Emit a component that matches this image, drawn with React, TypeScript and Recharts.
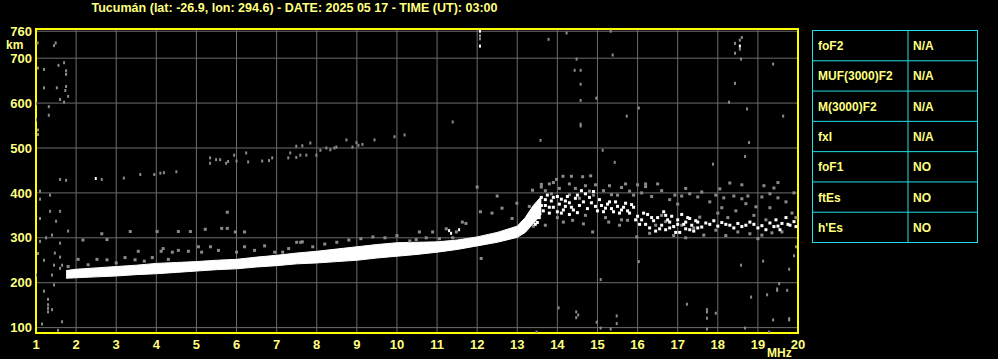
import { ComposedChart, Area, Scatter, XAxis, YAxis, CartesianGrid, ReferenceArea } from 'recharts'

const title = 'Tucumán (lat: -26.9, lon: 294.6) - DATE: 2025 05 17 - TIME (UT): 03:00'

const freqTicks = [1, 2, 3, 4, 5, 6, 7, 8, 9, 10, 11, 12, 13, 14, 15, 16, 17, 18, 19, 20]
const heightTicks = [100, 200, 300, 400, 500, 600, 700, 760]

// main (low) F trace, read as a band: lower / upper virtual height
const bandMHz = [1.75, 2, 2.5, 3, 3.5, 4, 4.5, 5, 5.5, 6, 6.5, 7, 7.5, 8, 8.5, 9, 9.5, 10, 10.5, 11, 11.5, 12, 12.5, 13, 13.2, 13.4, 13.6]
const bandLow = [210, 211, 213, 215, 218, 220, 223, 226, 229, 231, 235, 238, 242, 244, 247, 250, 255, 259, 263, 268, 274, 282, 290, 301, 312, 332, 352]
const bandHigh = [227, 230, 233, 236, 239, 243, 245, 247, 250, 252, 257, 261, 266, 270, 275, 280, 285, 289, 290, 291, 295, 302, 312, 326, 345, 372, 392]

// scattered echoes above 13.4 MHz (white)
const fLayerWhite = [
  [13.4, 340], [13.45, 330], [13.45, 352], [13.5, 366], [13.5, 334], [13.55, 345], [13.55, 378], [13.6, 390],
  [13.65, 360], [13.7, 372], [13.75, 395], [13.8, 355], [13.85, 382], [13.9, 368], [14.0, 392], [14.05, 375],
  [14.1, 386], [14.1, 355], [14.15, 362], [14.2, 370], [14.25, 392], [14.3, 378], [14.3, 352], [14.4, 362],
  [14.45, 388], [14.55, 372], [14.6, 405], [14.7, 398], [14.75, 365], [14.85, 378], [14.9, 403], [15.0, 360],
  [15.1, 372], [15.2, 366], [15.3, 380], [15.4, 358], [15.5, 370], [15.6, 362], [15.7, 377], [15.8, 355],
  [15.9, 368], [16.0, 348], [16.1, 340], [16.2, 330], [16.25, 352], [16.3, 322], [16.4, 338], [16.45, 315],
  [16.5, 345], [16.6, 328], [16.65, 358], [16.7, 318], [16.75, 340], [16.8, 335], [16.85, 348], [16.9, 325],
  [16.95, 312], [17.0, 340], [17.05, 312], [17.1, 352], [17.15, 330], [17.2, 320], [17.25, 345], [17.3, 343],
  [17.35, 328], [17.4, 315], [17.45, 338], [17.5, 335], [17.6, 324], [17.8, 330], [17.9, 338], [18.0, 326],
  [18.1, 334], [18.3, 328], [18.4, 322], [18.5, 332], [18.6, 325], [18.9, 330], [19.0, 322], [19.1, 327],
  [19.2, 318], [19.3, 333], [19.45, 340], [19.5, 326], [19.6, 332], [19.7, 345], [19.8, 328], [19.9, 336],
  [13.6, 372], [13.7, 385], [13.8, 368], [13.9, 390], [14.0, 358], [14.2, 382], [14.35, 368], [14.5, 395],
  [14.5, 356], [14.65, 380], [14.8, 390], [14.95, 370], [15.05, 385], [15.15, 358], [15.25, 375], [15.35, 365],
  [15.45, 380], [15.55, 355], [15.65, 368], [15.75, 360], [15.85, 374], [15.95, 340], [16.05, 330], [16.15, 355],
  [16.35, 345], [16.55, 320], [16.7, 350], [16.8, 322], [17.0, 330], [17.2, 335], [17.3, 318], [17.5, 322],
  [17.7, 333], [18.2, 330], [18.7, 328], [18.8, 335], [19.4, 325], [19.55, 318], [19.75, 330], [19.95, 325],
]

// weaker echoes round the F region (grey)
const fLayerGrey = [
  [13.4, 326], [13.6, 419], [13.7, 328], [13.85, 398], [13.9, 423], [13.98, 430], [14.14, 437], [14.15, 335],
  [14.3, 396], [14.3, 420], [14.35, 437], [14.38, 339], [14.55, 388], [14.63, 436], [14.65, 331], [14.7, 416],
  [14.8, 404], [14.83, 438], [14.88, 313], [14.95, 418], [15.28, 335], [15.3, 416], [15.35, 396], [15.55, 328],
  [15.7, 420], [15.75, 339], [15.8, 404], [15.98, 302], [16.0, 418], [16.2, 420], [16.2, 414], [16.45, 328],
  [16.5, 420], [16.6, 350], [16.7, 336], [16.93, 395], [17.1, 393], [17.1, 328], [17.3, 398], [17.4, 322],
  [17.5, 391], [17.55, 346], [17.65, 306], [17.95, 395], [17.95, 317], [18.05, 409], [18.1, 367], [18.15, 389],
  [18.3, 422], [18.4, 393], [18.5, 313], [18.6, 387], [18.6, 418], [18.7, 376], [18.75, 393], [18.8, 309],
  [18.95, 369], [19.1, 391], [19.1, 306], [19.15, 416], [19.3, 398], [19.3, 367], [19.35, 311], [19.4, 411],
  [19.5, 389], [19.5, 423], [19.6, 313], [19.85, 355], [19.9, 400],
  [13.7, 405], [14.05, 410], [14.45, 410], [14.9, 395], [15.15, 405], [15.5, 395], [15.6, 412], [15.9, 395],
  [16.1, 400], [16.35, 392], [16.6, 405], [16.8, 385], [17.0, 375], [17.2, 410], [17.6, 402], [17.8, 380],
  [18.0, 355], [18.25, 345], [18.45, 360], [18.9, 350], [19.2, 340], [19.7, 380], [19.95, 345], [16.3, 310],
  [16.9, 305], [17.2, 300], [18.2, 305], [19.0, 298], [15.2, 345], [15.6, 340], [14.0, 345], [14.7, 350],
]

// grey speckle along the top of the main trace
const fringeGrey = [
  [1.8, 236], [2.05, 252], [2.17, 295], [2.3, 240], [2.52, 252], [2.64, 309], [2.77, 251], [2.77, 296],
  [3.0, 244], [3.22, 256], [3.35, 314], [3.47, 251], [3.55, 270], [3.7, 248], [3.9, 256], [4.02, 314],
  [4.12, 270], [4.17, 276], [4.3, 252], [4.4, 268], [4.55, 272], [4.55, 314], [4.8, 270], [4.85, 314],
  [5.05, 280], [5.13, 268], [5.22, 319], [5.35, 280], [5.55, 272], [5.63, 321], [5.77, 321], [5.77, 357],
  [5.97, 313], [6.0, 268], [6.2, 280], [6.2, 313], [6.45, 272], [6.7, 282], [6.95, 268], [7.15, 268],
  [7.3, 276], [7.5, 290], [7.6, 290], [7.64, 291], [7.9, 280], [8.2, 286], [8.5, 290], [8.8, 295],
  [9.1, 298], [9.4, 302], [9.7, 300], [10.0, 305], [10.32, 293], [10.48, 296], [10.56, 313], [10.73, 300],
  [10.89, 313], [11.06, 298], [11.23, 320], [11.39, 300], [11.48, 313], [11.63, 335], [11.72, 332], [12.0, 413],
  [12.08, 358], [12.1, 254], [12.37, 355], [12.5, 393], [12.62, 366], [12.87, 343], [12.99, 377], [13.3, 370],
  [13.38, 406], [13.6, 413], [13.8, 420],
]

// isolated noise and the second-hop trace
const noiseGrey = [
  [1.04, 734], [1.49, 734], [1.45, 728], [1.7, 690], [1.56, 684], [1.05, 678], [1.2, 675], [1.75, 672],
  [1.75, 664], [1.75, 637], [1.2, 634], [1.52, 634], [1.73, 628], [1.8, 615], [1.6, 608], [1.7, 602],
  [1.32, 592], [1.32, 573], [1.0, 599], [1.0, 563], [1.05, 540], [1.05, 530], [1.1, 404], [1.35, 395],
  [1.1, 386], [1.35, 359], [1.6, 359], [1.5, 337], [1.1, 343], [1.8, 315], [1.4, 306], [1.1, 292],
  [1.25, 300], [1.6, 288], [1.05, 265], [1.47, 266], [1.2, 250], [1.6, 257], [1.45, 239], [1.65, 239],
  [1.4, 217], [1.0, 217], [1.45, 195], [1.2, 181], [1.3, 163], [1.3, 151], [1.3, 143], [1.4, 140],
  [1.3, 135], [1.15, 108], [1.65, 113], [1.55, 94], [1.6, 232], [1.6, 430], [1.75, 428],
  [2.64, 430], [3.19, 433], [3.6, 441], [3.95, 441], [4.1, 444], [4.19, 445], [4.5, 447], [5.34, 478],
  [5.49, 474], [5.59, 474], [5.34, 466], [5.74, 466], [5.79, 470], [5.94, 484], [6.0, 471], [6.24, 489],
  [6.29, 469], [6.64, 471], [6.81, 472], [6.89, 478], [7.29, 478], [7.34, 489], [7.49, 479], [7.49, 504],
  [7.64, 505], [7.59, 484], [7.74, 484], [7.84, 511], [7.99, 484], [8.09, 495], [8.24, 500], [8.34, 496],
  [8.44, 500], [8.49, 502], [8.74, 518], [8.89, 502], [8.99, 512], [9.04, 506], [9.14, 508], [9.44, 518],
  [9.94, 525], [10.19, 529], [11.39, 558],
  [12.07, 750], [12.07, 743], [13.78, 742], [14.23, 756], [15.33, 760], [15.38, 707], [14.48, 698], [14.43, 673],
  [14.58, 673], [14.58, 642], [14.58, 606], [14.97, 611], [16.03, 589], [15.73, 571], [14.58, 553], [14.58, 549],
  [13.58, 517], [15.13, 495], [15.43, 468], [17.88, 464], [18.68, 481], [18.78, 512], [19.63, 571], [18.73, 587],
  [18.28, 602], [18.43, 644], [19.38, 687], [18.58, 698], [18.43, 711], [18.43, 733], [18.55, 740], [18.6, 746],
  [18.55, 720],
  [15.08, 207], [14.03, 144], [14.47, 135], [14.47, 122], [14.52, 128], [15.48, 126], [14.98, 112], [15.48, 109],
  [15.08, 99], [15.33, 97], [13.48, 90], [17.23, 152], [17.73, 140], [17.73, 135], [17.73, 121], [17.95, 132],
  [17.73, 97], [18.58, 239], [19.13, 248], [19.78, 230], [18.83, 168], [19.23, 173], [19.53, 198], [19.48, 186],
  [19.48, 183], [19.73, 183], [19.38, 117], [19.78, 117], [19.78, 120], [18.68, 99], [19.28, 90], [16.03, 247],
  [19.9, 260], [19.95, 280],
]

const noiseWhite = [
  [2.49, 432], [12.07, 760], [12.07, 727], [18.55, 727], [11.3, 316], [11.55, 318], [11.35, 310],
]

const paramNames = ['foF2', 'MUF(3000)F2', 'M(3000)F2', 'fxI', 'foF1', 'ftEs', "h'Es"]
const paramValues = ['N/A', 'N/A', 'N/A', 'N/A', 'NO', 'NO', 'NO']

const band = bandMHz.map((f, i) => ({ f, range: [bandLow[i], bandHigh[i]] }))
const pts = (list: number[][]) => list.map(([f, h]) => ({ f, h }))

const YELLOW = '#ffff80'
const FONT = '"Liberation Sans", Arial, sans-serif'

const dot = (w: number, h: number, fill: string) => (p: any) =>
  <rect x={p.cx - w / 2} y={p.cy - h / 2} width={w} height={h} fill={fill} />

const tickStyle = { fill: YELLOW, fontSize: 13, fontWeight: 'bold', fontFamily: FONT }

export default function App() {
  const rowH = 212 / paramNames.length
  return (
    <div style={{ position: 'absolute', left: 0, top: 0, width: 998, height: 359, background: '#000', overflow: 'hidden' }}>
      <ComposedChart width={998} height={359} data={band} margin={{ top: 29, right: 200, bottom: 0, left: 0 }}>
        <CartesianGrid stroke="#6c6c6c" strokeWidth={1} />
        <XAxis
          type="number"
          dataKey="f"
          domain={[1, 20]}
          ticks={freqTicks}
          interval={0}
          allowDataOverflow
          axisLine={false}
          tickLine={false}
          tickSize={6}
          tickMargin={1}
          height={26}
          tick={tickStyle}
        />
        <YAxis
          type="number"
          dataKey="h"
          domain={[88, 765]}
          ticks={heightTicks}
          interval={0}
          allowDataOverflow
          axisLine={false}
          tickLine={false}
          tickSize={2}
          tickMargin={2}
          width={36}
          tick={tickStyle}
        />
        <Area
          type="linear"
          dataKey="range"
          stroke="#ffffff"
          strokeWidth={1}
          fill="#ffffff"
          fillOpacity={1}
          dot={false}
          activeDot={false}
          isAnimationActive={false}
        />
        <Scatter data={pts(fringeGrey)} shape={dot(3, 3, '#8a8a8a')} isAnimationActive={false} />
        <Scatter data={pts(fLayerGrey)} shape={dot(3, 3, '#8a8a8a')} isAnimationActive={false} />
        <Scatter data={pts(noiseGrey)} shape={dot(2, 3, '#8a8a8a')} isAnimationActive={false} />
        <Scatter data={pts(fLayerWhite)} shape={dot(3, 3, '#ffffff')} isAnimationActive={false} />
        <Scatter data={pts(noiseWhite)} shape={dot(2, 3, '#ffffff')} isAnimationActive={false} />
        <ReferenceArea x1={1} x2={20} y1={88} y2={765} fill="none" stroke="#ffff00" strokeWidth={2} ifOverflow="visible" />
      </ComposedChart>

      <svg width={998} height={359} style={{ position: 'absolute', left: 0, top: 0, pointerEvents: 'none' }}>
        <g fontFamily={FONT} fontWeight="bold" fill={YELLOW}>
          <text x={91.5} y={11.5} fontSize={13} textLength={406} lengthAdjust="spacingAndGlyphs">{title}</text>
          <text x={6} y={49} fontSize={12}>km</text>
          <text x={767} y={357} fontSize={12}>MHz</text>
        </g>
        <g stroke="#20e0e8" strokeWidth={1} fill="none">
          <rect x={812.5} y={30.5} width={165} height={212} />
          <line x1={908} y1={30.5} x2={908} y2={242.5} />
          {paramNames.slice(1).map((_, i) => (
            <line key={i} x1={812.5} x2={977.5} y1={30.5 + (i + 1) * rowH} y2={30.5 + (i + 1) * rowH} />
          ))}
        </g>
        <g fontFamily={FONT} fontWeight="bold" fontSize={12} fill={YELLOW}>
          {paramNames.map((n, i) => (
            <text key={n} x={818} y={30.5 + i * rowH + rowH / 2 + 4.5}>{n}</text>
          ))}
          {paramValues.map((v, i) => (
            <text key={i} x={913} y={30.5 + i * rowH + rowH / 2 + 4.5}>{v}</text>
          ))}
        </g>
      </svg>
    </div>
  )
}
